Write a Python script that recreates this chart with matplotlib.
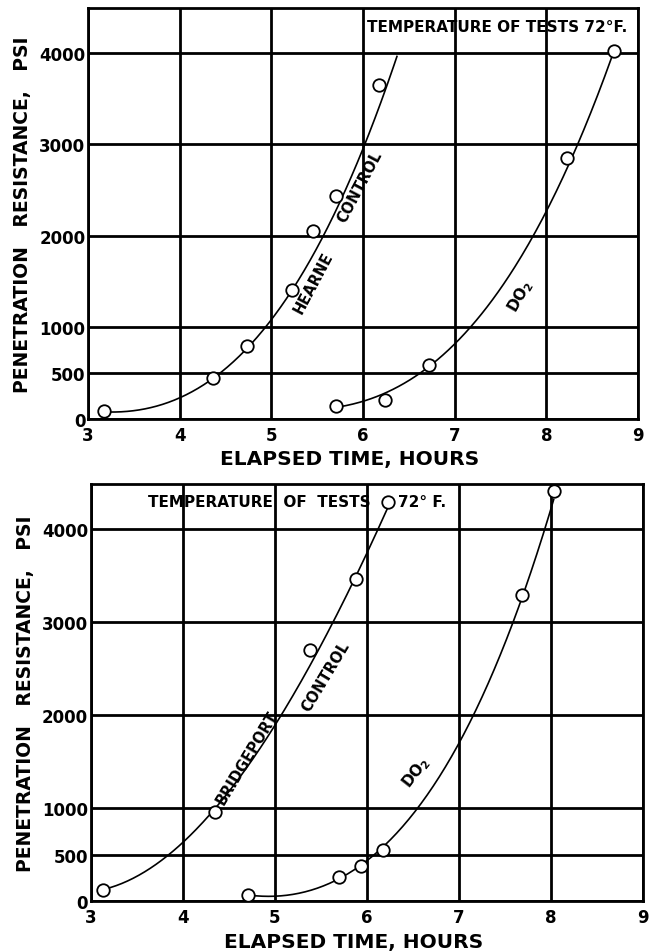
import matplotlib.pyplot as plt
import numpy as np

# ---- data ----
x_ticks = [3, 4, 5, 6, 7, 8, 9]
y_ticks = [0, 500, 1000, 2000, 3000, 4000]

# top panel: Hearne
hearne_ctrl_x = [3.17, 4.36, 4.73, 5.23, 5.45, 5.70, 6.17]
hearne_ctrl_y = [90, 450, 800, 1410, 2050, 2440, 3650]
hearne_do2_x = [5.70, 6.24, 6.72, 8.23, 8.74]
hearne_do2_y = [145, 210, 595, 2850, 4020]

# smooth curves drawn by hand on the original
hearne_ctrl_curve_x = [3.17, 3.4, 4.0, 4.36, 5.0, 5.58, 6.0, 6.37]
hearne_ctrl_curve_y = [90, 65, 225, 450, 1100, 2000, 2965, 3960]
hearne_do2_curve_x = [5.74, 6.0, 6.5, 7.0, 7.11, 7.5, 7.9, 8.32, 8.74]
hearne_do2_curve_y = [150, 175, 390, 820, 1000, 1430, 2000, 3000, 4020]

# bottom panel: Bridgeport
bridge_ctrl_x = [3.13, 4.35, 5.38, 5.88, 6.23]
bridge_ctrl_y = [120, 960, 2700, 3470, 4300]
bridge_do2_x = [4.71, 5.70, 5.94, 6.17, 7.69, 8.03]
bridge_do2_y = [60, 260, 380, 550, 3290, 4410]

bridge_ctrl_curve_x = [3.15, 3.5, 4.0, 4.35, 5.01, 5.66, 6.14, 6.23]
bridge_ctrl_curve_y = [120, 300, 600, 960, 2000, 3000, 4000, 4300]
bridge_do2_curve_x = [4.73, 5.0, 5.7, 6.17, 6.57, 7.12, 7.6, 7.96, 8.03]
bridge_do2_curve_y = [55, 60, 260, 550, 1000, 2000, 3000, 4000, 4410]

plt.rcParams['font.family'] = 'DejaVu Sans'
plt.rcParams['font.weight'] = 'bold'

fig = plt.figure(figsize=(6.54, 9.53), dpi=100)
ax1 = fig.add_axes([0.1346, 0.5593, 0.841, 0.4313])
ax2 = fig.add_axes([0.1391, 0.0535, 0.844, 0.4376])


def smooth(ax, cx, cy, deg):
    coef = np.polyfit(cx, cy, deg)
    xs = np.linspace(cx[0], cx[-1], 200)
    ax.plot(xs, np.polyval(coef, xs), color='black', lw=1.2, zorder=3)


def setup(ax):
    ax.set_xlim(3, 9)
    ax.set_ylim(0, 4490)
    ax.set_xticks(x_ticks)
    ax.set_yticks(y_ticks)
    ax.tick_params(axis='x', length=0, pad=5, labelsize=12)
    ax.tick_params(axis='y', length=0, pad=2, labelsize=12)
    for lab in ax.get_xticklabels() + ax.get_yticklabels():
        lab.set_fontweight('bold')
    ax.grid(True, color='black', lw=2)
    ax.set_axisbelow(True)
    for sp in ax.spines.values():
        sp.set_linewidth(2)
    ax.set_xlabel("ELAPSED TIME, HOURS", fontsize=14.5, fontweight='bold', labelpad=4)
    ax.xaxis.label.set_x(0.475)
    ax.set_ylabel("PENETRATION   RESISTANCE,   PSI", fontsize=13.5, fontweight='bold', labelpad=5)


mk = dict(marker='o', ms=9, mfc='white', mec='black', mew=1.3, ls='none', zorder=4)

# top
setup(ax1)
smooth(ax1, hearne_ctrl_curve_x, hearne_ctrl_curve_y, 3)
smooth(ax1, hearne_do2_curve_x, hearne_do2_curve_y, 3)
ax1.plot(hearne_ctrl_x, hearne_ctrl_y, **mk)
ax1.plot(hearne_do2_x, hearne_do2_y, **mk)
ax1.text(6.04, 4290, "TEMPERATURE OF TESTS 72°F.", fontsize=11, fontweight='bold',
         va='center', ha='left', zorder=5)
ax1.text(5.46, 1490, "HEARNE", rotation=62, fontsize=10.5, fontweight='bold',
         ha='center', va='center', zorder=5)
ax1.text(5.96, 2540, "CONTROL", rotation=62, fontsize=10.5, fontweight='bold',
         ha='center', va='center', zorder=5)
ax1.text(7.72, 1350, r"DO$_\mathbf{2}$", rotation=60, fontsize=11, fontweight='bold',
         ha='center', va='center', zorder=5)

# bottom
setup(ax2)
smooth(ax2, bridge_ctrl_curve_x, bridge_ctrl_curve_y, 3)
smooth(ax2, bridge_do2_curve_x, bridge_do2_curve_y, 4)
ax2.plot(bridge_ctrl_x, bridge_ctrl_y, **mk)
ax2.plot(bridge_do2_x, bridge_do2_y, **mk)
ax2.text(3.62, 4300, "TEMPERATURE  OF  TESTS", fontsize=11, fontweight='bold',
         va='center', ha='left', zorder=2)
ax2.text(6.34, 4300, "72° F.", fontsize=11, fontweight='bold',
         va='center', ha='left', zorder=2)
ax2.text(4.70, 1550, "BRIDGEPORT", rotation=59, fontsize=10.5, fontweight='bold',
         ha='center', va='center', zorder=5)
ax2.text(5.55, 2420, "CONTROL", rotation=59, fontsize=10.5, fontweight='bold',
         ha='center', va='center', zorder=5)
ax2.text(6.54, 1390, r"DO$_\mathbf{2}$", rotation=52, fontsize=11, fontweight='bold',
         ha='center', va='center', zorder=5)

plt.savefig("out.png", dpi=100)
